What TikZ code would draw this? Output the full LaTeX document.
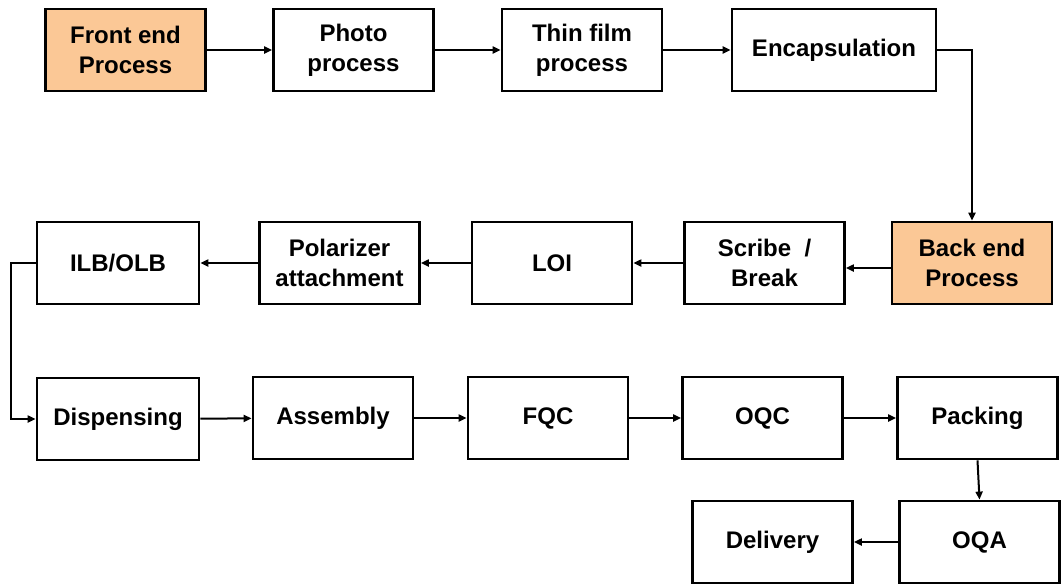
\documentclass[tikz,border=0pt]{standalone}
\usepackage{fontspec}
\setmainfont{Liberation Sans}
\usetikzlibrary{arrows.meta,calc}
\definecolor{peach}{RGB}{251,200,150}
\tikzset{
  box/.style={draw=black, line width=1.4pt, fill=white, minimum width=80pt, minimum height=41pt, inner sep=0pt, align=center, font=\bfseries\fontsize{12}{15}\selectfont},
  hl/.style={fill=peach},
  conn/.style={line width=1pt, -{Triangle[length=4pt,width=3.5pt]}}
}
\begin{document}
\begin{tikzpicture}[x=0.5pt,y=-0.5pt]
\useasboundingbox (0,0) rectangle (1061,585);
\node[box,hl] (fe) at (125.5,50) {Front end\\Process};
\node[box] (photo) at (353.5,50) {Photo\\process};
\node[box] (thin) at (582,50) {Thin film\\process};
\node[box,minimum width=102pt] (enc) at (834,50) {Encapsulation};
\node[box,hl] (be) at (972,263) {Back end\\Process};
\node[box] (scribe) at (764.5,263) {Scribe \ /\\Break};
\node[box] (loi) at (552,263) {LOI};
\node[box] (pol) at (339.5,263) {Polarizer\\attachment};
\node[box,minimum width=81pt] (ilb) at (118,263) {ILB/OLB};
\node[box,minimum width=81pt] (disp) at (118,419) {Dispensing};
\node[box] (asm) at (333,418) {Assembly};
\node[box] (fqc) at (548,418) {FQC};
\node[box] (oqc) at (762.5,418) {OQC};
\node[box] (pack) at (977.5,418) {Packing};
\node[box] (oqa) at (979.5,542) {OQA};
\node[box] (del) at (772.5,542) {Delivery};
\draw[conn] (fe) -- (photo);
\draw[conn] (photo) -- (thin);
\draw[conn] (thin) -- (enc);
\draw[conn] (enc.east) -| (be.north);
\draw[conn] ($(be.west)+(0,5)$) -- ($(scribe.east)+(0,5)$);
\draw[conn] (scribe) -- (loi);
\draw[conn] (loi) -- (pol);
\draw[conn] (pol) -- (ilb);
\draw[conn] (ilb.west) -- ++(-25,0) |- (disp.west);
\draw[conn] (disp) -- (asm);
\draw[conn] (asm) -- (fqc);
\draw[conn] (fqc) -- (oqc);
\draw[conn] (oqc) -- (pack);
\draw[conn] (pack.south) -- (oqa.north);
\draw[conn] (oqa) -- (del);
\end{tikzpicture}
\end{document}
